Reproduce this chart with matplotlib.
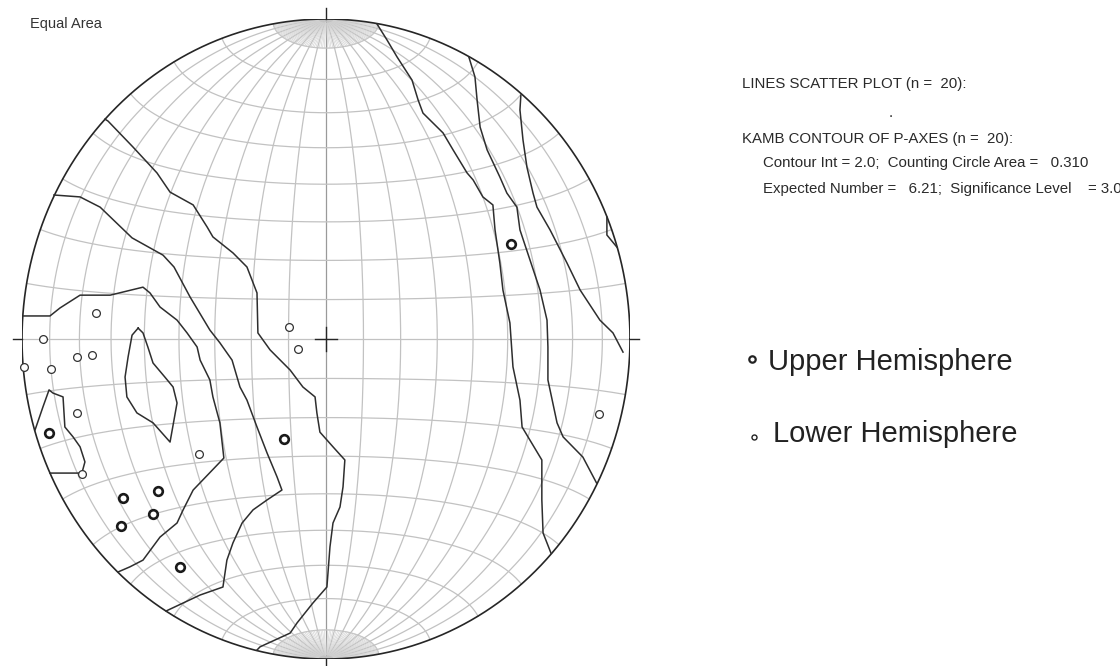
import numpy as np
import matplotlib

matplotlib.use("Agg")
import matplotlib.pyplot as plt

plt.rcParams["font.family"] = ["Liberation Sans", "DejaVu Sans"]

# P-axes in net coordinates (unit primitive circle, x = east, y = north)
upper_x = [-0.911, -0.668, -0.553, -0.569, -0.674, -0.480, -0.138, 0.609]
upper_y = [-0.294, -0.497, -0.475, -0.547, -0.584, -0.712, -0.312, 0.297]

lower_x = [-0.757, -0.931, -0.995, -0.905, -0.819, -0.770, -0.819, -0.803,
           -0.418, -0.122, -0.092, 0.898]
lower_y = [0.081, 0.000, -0.088, -0.094, -0.056, -0.050, -0.231, -0.422,
           -0.359, 0.037, -0.031, -0.234]

# Kamb contour traces (2.0 sigma interval)
contour_a_x = [-0.727, -0.717, -0.635, -0.556, -0.513, -0.437, -0.391, -0.372,
               -0.306, -0.260, -0.227, -0.224, -0.184, -0.118, -0.076, -0.036,
               -0.030, -0.020, 0.023, 0.062, 0.056, 0.046, 0.023, 0.013, 0.003,
               -0.043, -0.095, -0.118, -0.217, -0.227]
contour_a_y = [0.687, 0.681, 0.600, 0.519, 0.459, 0.419, 0.350, 0.319, 0.269,
               0.225, 0.144, 0.019, -0.034, -0.097, -0.150, -0.181, -0.231,
               -0.291, -0.337, -0.378, -0.462, -0.525, -0.575, -0.650, -0.775,
               -0.825, -0.887, -0.919, -0.962, -0.972]

contour_b_x = [-0.895, -0.809, -0.743, -0.638, -0.536, -0.500, -0.447, -0.382,
               -0.349, -0.309, -0.283, -0.260, -0.227, -0.194, -0.161, -0.145,
               -0.194, -0.240, -0.276, -0.306, -0.326, -0.339, -0.414, -0.526]
contour_b_y = [0.450, 0.444, 0.412, 0.316, 0.262, 0.225, 0.131, 0.028, -0.012,
               -0.066, -0.150, -0.191, -0.275, -0.356, -0.431, -0.472, -0.503,
               -0.534, -0.575, -0.637, -0.691, -0.775, -0.800, -0.850]

contour_c_x = [-0.997, -0.908, -0.875, -0.809, -0.710, -0.602, -0.579, -0.546,
               -0.490, -0.457, -0.424, -0.414, -0.382, -0.372, -0.349, -0.336,
               -0.437, -0.470, -0.490, -0.546, -0.602, -0.645, -0.684]
contour_c_y = [0.072, 0.072, 0.097, 0.137, 0.137, 0.162, 0.144, 0.100, 0.059,
               0.019, -0.025, -0.066, -0.128, -0.181, -0.262, -0.372, -0.472,
               -0.534, -0.575, -0.619, -0.691, -0.712, -0.728]

contour_d_x = [-0.618, -0.638, -0.651, -0.661, -0.655, -0.622, -0.569, -0.513,
               -0.490, -0.503, -0.530, -0.569, -0.586, -0.602, -0.618]
contour_d_y = [0.034, 0.012, -0.056, -0.119, -0.181, -0.231, -0.262, -0.322,
               -0.200, -0.150, -0.119, -0.075, -0.025, 0.019, 0.034]

contour_e_x = [-0.957, -0.931, -0.911, -0.898, -0.865, -0.859, -0.832, -0.809,
               -0.793, -0.803, -0.875, -0.908]
contour_e_y = [-0.284, -0.212, -0.159, -0.169, -0.181, -0.275, -0.306, -0.337,
               -0.384, -0.419, -0.419, -0.419]

contour_f_x = [0.168, 0.201, 0.234, 0.283, 0.303, 0.319, 0.385, 0.418, 0.464,
               0.484, 0.516, 0.549, 0.556, 0.572, 0.582, 0.605, 0.615, 0.638,
               0.645, 0.710, 0.710, 0.714, 0.740]
contour_f_y = [0.984, 0.934, 0.881, 0.809, 0.747, 0.706, 0.644, 0.591, 0.519,
               0.497, 0.444, 0.419, 0.341, 0.237, 0.153, 0.050, -0.087, -0.191,
               -0.275, -0.378, -0.503, -0.606, -0.669]

contour_g_x = [0.470, 0.490, 0.497, 0.507, 0.530, 0.572, 0.595, 0.628, 0.638,
               0.671, 0.704, 0.727, 0.730, 0.730, 0.760, 0.780, 0.845, 0.890]
contour_g_y = [0.881, 0.819, 0.747, 0.662, 0.591, 0.506, 0.456, 0.412, 0.341,
               0.247, 0.153, 0.059, -0.025, -0.128, -0.262, -0.306, -0.369,
               -0.450]

contour_h_x = [0.641, 0.638, 0.648, 0.661, 0.681, 0.694, 0.737, 0.793, 0.836,
               0.901, 0.944, 0.977]
contour_h_y = [0.762, 0.716, 0.622, 0.537, 0.456, 0.412, 0.341, 0.237, 0.153,
               0.059, 0.019, -0.041]

contour_i_x = [0.924, 0.924, 0.957]
contour_i_y = [0.381, 0.325, 0.287]

contours = [
    (contour_a_x, contour_a_y),
    (contour_b_x, contour_b_y),
    (contour_c_x, contour_c_y),
    (contour_d_x, contour_d_y),
    (contour_e_x, contour_e_y),
    (contour_f_x, contour_f_y),
    (contour_g_x, contour_g_y),
    (contour_h_x, contour_h_y),
    (contour_i_x, contour_i_y),
]

info_lines = [
    "LINES SCATTER PLOT (n =  20):",
    "KAMB CONTOUR OF P-AXES (n =  20):",
    "Contour Int = 2.0;  Counting Circle Area =   0.310",
    "Expected Number =   6.21;  Significance Level    = 3.0",
]

GRID = "#c2c2c2"
INK = "#262626"


def schmidt(lon, lat):
    """Equal-area projection of a point on a sphere whose polar axis is N-S."""
    lon = np.radians(np.asarray(lon, dtype=float))
    lat = np.radians(np.asarray(lat, dtype=float))
    x = np.cos(lat) * np.sin(lon)
    y = np.sin(lat)
    z = np.cos(lat) * np.cos(lon)
    theta = np.arccos(np.clip(z, -1, 1))
    r = np.sqrt(2) * np.sin(theta / 2)
    h = np.hypot(x, y)
    h = np.where(h == 0, 1, h)
    return r * x / h, r * y / h


W, H = 1120, 666
fig = plt.figure(figsize=(W / 100, H / 100), dpi=100)
# net centre at (326, 339) px, radii 304 px across and 320 px tall
ax = fig.add_axes([22 / W, 1 - 659 / H, 608 / W, 640 / H])
ax.set_xlim(-1, 1)
ax.set_ylim(-1, 1)
ax.axis("off")

# great circles (meridians) every 10 degrees
lat = np.linspace(-90, 90, 361)
for lon in range(-80, 90, 10):
    gx, gy = schmidt(np.full_like(lat, lon), lat)
    c = "#9a9a9a" if lon == 0 else GRID
    ax.plot(gx, gy, color=c, lw=0.9, zorder=1)

# small circles every 10 degrees
lon = np.linspace(-90, 90, 361)
for la in range(-80, 90, 10):
    gx, gy = schmidt(lon, np.full_like(lon, la))
    ax.plot(gx, gy, color=GRID, lw=0.9, zorder=1)

# 2-degree fan near the poles
for lo in range(-88, 90, 2):
    if lo % 10 == 0:
        continue
    for band in (np.linspace(80, 88.5, 30), np.linspace(-88.5, -80, 30)):
        gx, gy = schmidt(np.full_like(band, lo), band)
        ax.plot(gx, gy, color="#d0d0d0", lw=0.45, zorder=1)

# primitive circle
t = np.linspace(0, 2 * np.pi, 721)
ax.plot(np.cos(t), np.sin(t), color=INK, lw=1.2, zorder=3)

# centre cross and N/S/E/W ticks
ax.plot([-0.035, 0.035], [0, 0], color=INK, lw=1.0, zorder=3)
ax.plot([0, 0], [-0.038, 0.038], color=INK, lw=1.0, zorder=3)
ax.plot([0, 0], [1.0, 1.035], color=INK, lw=1.0, clip_on=False, zorder=3)
ax.plot([0, 0], [-1.0, -1.03], color=INK, lw=1.0, clip_on=False, zorder=3)
ax.plot([-1.0, -1.03], [0, 0], color=INK, lw=1.0, clip_on=False, zorder=3)
ax.plot([1.0, 1.03], [0, 0], color=INK, lw=1.0, clip_on=False, zorder=3)

for cx, cy in contours:
    ax.plot(cx, cy, color="#2e2e2e", lw=1.1, zorder=4)

ax.plot(lower_x, lower_y, "o", ms=5.6, mfc="white", mec="#333333", mew=0.9,
        zorder=5, clip_on=False)
ax.plot(upper_x, upper_y, "o", ms=6.2, mfc="white", mec="#1a1a1a", mew=1.9,
        zorder=5)


def fy(py):
    return 1 - py / H


fig.text(30 / W, fy(28), "Equal Area", fontsize=10.5, color="#333333",
         va="baseline")

fig.text(742 / W, fy(88), info_lines[0], fontsize=10.8, color="#2a2a2a",
         va="baseline")
fig.text(889 / W, fy(113), ".", fontsize=11, color="#2a2a2a", va="center")
fig.text(742 / W, fy(143), info_lines[1], fontsize=10.8, color="#2a2a2a",
         va="baseline")
fig.text(763 / W, fy(167), info_lines[2], fontsize=10.8, color="#2a2a2a",
         va="baseline")
fig.text(763 / W, fy(193), info_lines[3], fontsize=10.8, color="#2a2a2a",
         va="baseline")

# hemisphere key
fig.add_artist(plt.Line2D([752 / W], [fy(359)], marker="o", ms=4.6,
                          mfc="white", mec="#222222", mew=1.6))
fig.text(768 / W, fy(370), "Upper Hemisphere", fontsize=21, color="#222222",
         va="baseline")
fig.add_artist(plt.Line2D([754 / W], [fy(437)], marker="o", ms=3.6,
                          mfc="white", mec="#222222", mew=1.0))
fig.text(773 / W, fy(442), "Lower Hemisphere", fontsize=21, color="#222222",
         va="baseline")

fig.savefig("out.png", dpi=100)
